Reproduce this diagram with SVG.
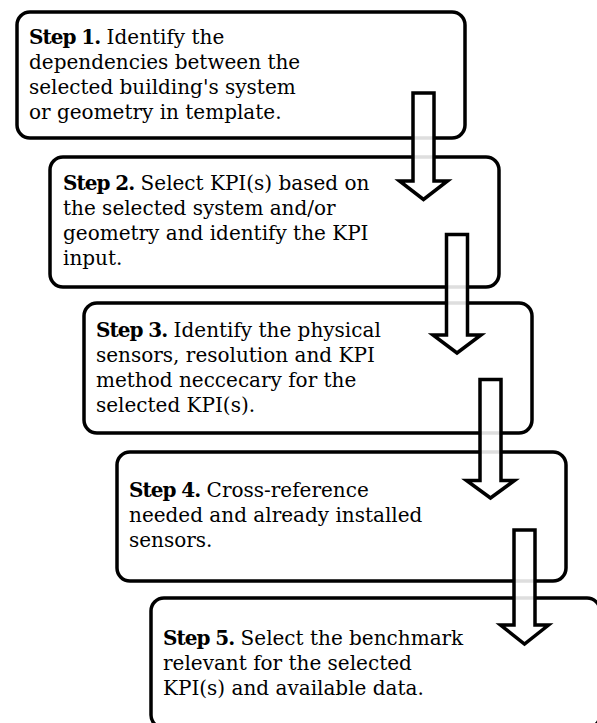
<svg xmlns="http://www.w3.org/2000/svg" width="597" height="723" viewBox="0 0 597 723">
<style>
.box{fill:#fff;stroke:#000;stroke-width:3.5}
.t{font-family:"DejaVu Serif","Liberation Serif",serif;font-size:20px;fill:#000}
.b{font-weight:bold;letter-spacing:-1px}
.arr{fill:#fff;fill-opacity:0.87;stroke:#000;stroke-width:3.5;stroke-linejoin:miter}
</style>
<rect width="597" height="723" fill="#fff"/>
<g id="step1">
<rect class="box" x="17" y="12" width="448" height="126" rx="13"/>
<text class="t"><tspan x="29" y="44"><tspan class="b">Step 1.</tspan> Identify the</tspan><tspan x="29" y="69">dependencies between the</tspan><tspan x="29" y="94">selected building's system</tspan><tspan x="29" y="119">or geometry in template.</tspan></text>
</g>
<g id="step2">
<rect class="box" x="50" y="157" width="449" height="130" rx="13"/>
<text class="t"><tspan x="63" y="190"><tspan class="b">Step 2.</tspan> Select KPI(s) based on</tspan><tspan x="63" y="215">the selected system and/or</tspan><tspan x="63" y="240">geometry and identify the KPI</tspan><tspan x="63" y="265">input.</tspan></text>
</g>
<g id="step3">
<rect class="box" x="84" y="303" width="448" height="130" rx="13"/>
<text class="t"><tspan x="96" y="337"><tspan class="b">Step 3.</tspan> Identify the physical</tspan><tspan x="96" y="362">sensors, resolution and KPI</tspan><tspan x="96" y="387">method neccecary for the</tspan><tspan x="96" y="412">selected KPI(s).</tspan></text>
</g>
<g id="step4">
<rect class="box" x="117" y="452" width="449" height="129" rx="13"/>
<text class="t"><tspan x="129" y="497"><tspan class="b">Step 4.</tspan> Cross-reference</tspan><tspan x="129" y="522">needed and already installed</tspan><tspan x="129" y="547">sensors.</tspan></text>
</g>
<g id="step5">
<rect class="box" x="151" y="598" width="449" height="130" rx="13"/>
<text class="t"><tspan x="163" y="645"><tspan class="b">Step 5.</tspan> Select the benchmark</tspan><tspan x="163" y="670">relevant for the selected</tspan><tspan x="163" y="695">KPI(s) and available data.</tspan></text>
</g>
<g id="connectors">
<path class="arr" d="M413,93 H434 V181 H447.5 L423.5,199.5 L399.5,181 H413 Z"/>
<path class="arr" d="M446.5,234.5 H467.5 V335 H481 L457,353 L433,335 H446.5 Z"/>
<path class="arr" d="M480,379.5 H501 V480.5 H514.5 L490.5,498 L466.5,480.5 H480 Z"/>
<path class="arr" d="M514,530 H535 V625 H548.5 L524.5,644 L500.5,625 H514 Z"/>
</g>
</svg>
